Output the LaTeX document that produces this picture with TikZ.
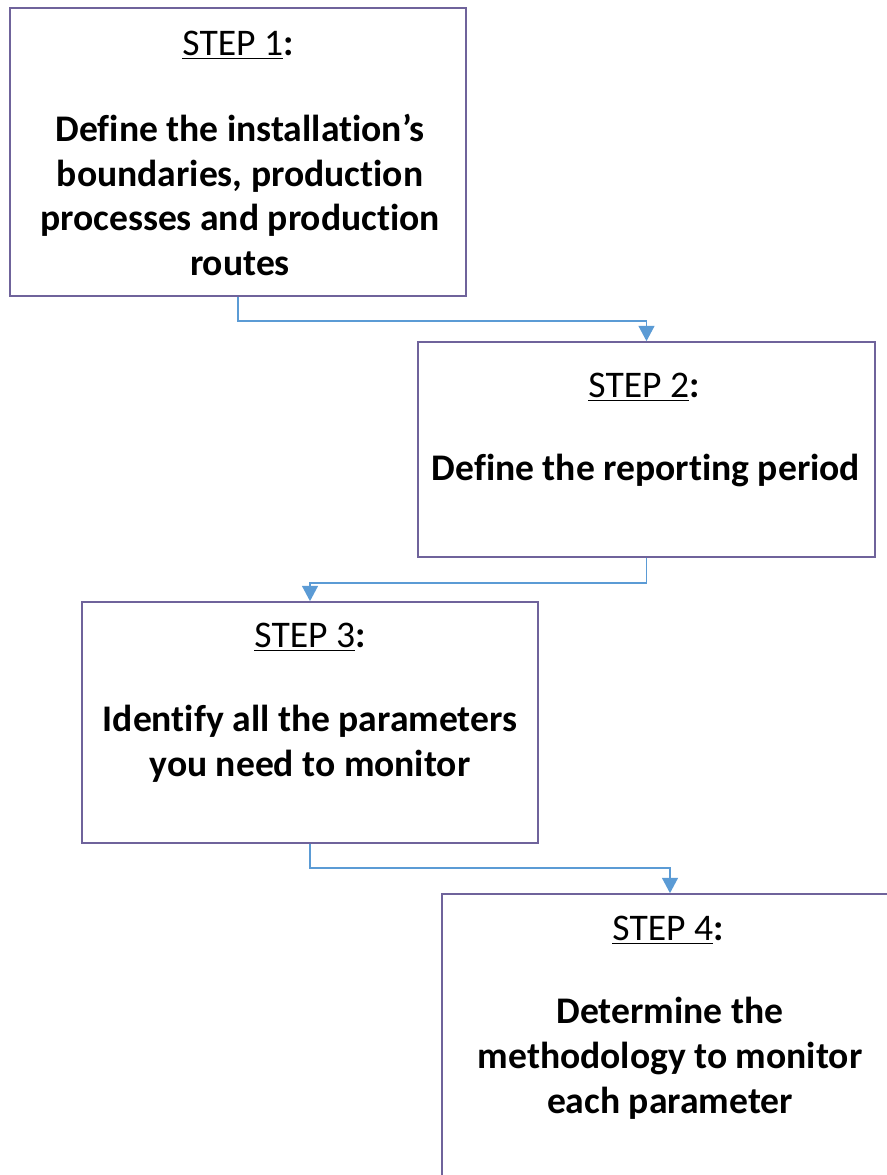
\documentclass[tikz,border=0pt]{standalone}
\usepackage{fontspec}
\setmainfont[Ligatures=NoCommon]{Carlito}
\usetikzlibrary{arrows.meta}
\definecolor{boxline}{HTML}{6F639B}
\definecolor{connline}{HTML}{5B9BD5}
\tikzset{
  stepbox/.style={draw=boxline, line width=1.3pt, fill=white, rectangle, inner sep=0pt},
  steplabel/.style={font=\fontsize{28.2}{34}\selectfont, align=center, inner sep=0pt},
  steptext/.style={font=\fontsize{28.2}{33.6}\selectfont\bfseries, align=center, inner sep=0pt},
  conn/.style={draw=connline, line width=1pt, -{Triangle[length=11.5pt,width=12pt]}}
}
\begin{document}
\begin{tikzpicture}[x=0.75pt,y=-0.75pt]
\useasboundingbox (0,0) rectangle (887,1175);
\clip (0,0) rectangle (887,1175);
\fill[white] (0,0) rectangle (887,1175);
% boxes
\node[stepbox, minimum width=456*0.75pt, minimum height=288*0.75pt] (b1) at (238,152) {};
\node[stepbox, minimum width=457*0.75pt, minimum height=215*0.75pt] (b2) at (646.5,449.5) {};
\node[stepbox, minimum width=456*0.75pt, minimum height=241*0.75pt] (b3) at (310,722.5) {};
\node[stepbox, minimum width=456*0.75pt, minimum height=300*0.75pt] (b4) at (670,1044) {};
% texts
\node[steplabel] (l1) at (238,45) {\underline{STEP 1}\textbf{:}};
\node[steptext] (t1) at (240,195) {Define the installation’s\\boundaries, production\\processes and production\\routes};
\node[steplabel] (l2) at (644,387) {\underline{STEP 2}\textbf{:}};
\node[steptext] (t2) at (646,470) {Define the reporting period};
\node[steplabel] (l3) at (310,637) {\underline{STEP 3}\textbf{:}};
\node[steptext] (t3) at (310,744) {Identify all the parameters\\you need to monitor};
\node[steplabel] (l4) at (668,930) {\underline{STEP 4}\textbf{:}};
\node[steptext] (t4) at (670,1058) {Determine the\\methodology to monitor\\each parameter};
% connectors
\draw[conn] (b1.south) -- ++(0,24) -| (b2.north);
\draw[conn] (b2.south) -- ++(0,25) -| (b3.north);
\draw[conn] (b3.south) -- ++(0,24) -| (b4.north);
\end{tikzpicture}
\end{document}
